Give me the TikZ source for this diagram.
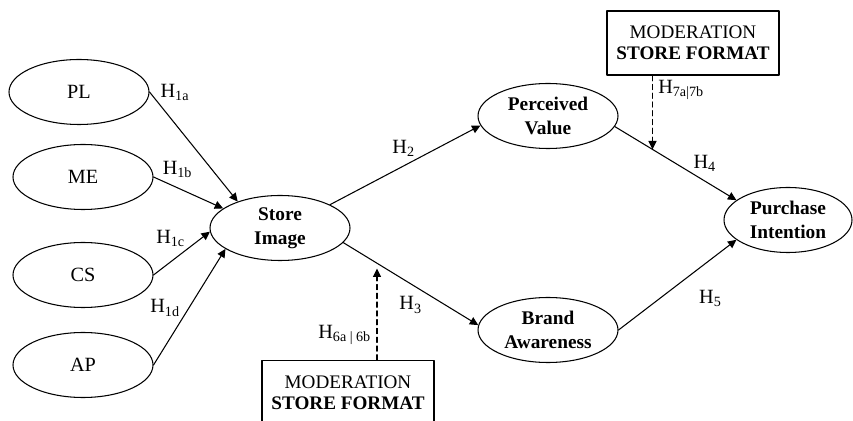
\documentclass[tikz,border=0pt]{standalone}
\usepackage{fontspec}
\setmainfont{Liberation Serif}
\usetikzlibrary{shapes.geometric}
\usetikzlibrary{arrows.meta}

\begin{document}
\begin{tikzpicture}[line cap = round, line join = round, >={Triangle[length=4.8pt,width=4.6pt]}, font=\fontsize{11.5}{13.5}\selectfont]
\tikzstyle{construct}=[ellipse, draw=black, line width=0.6pt, minimum width=2.8cm, minimum height=1.3cm, inner sep=0pt]
\tikzstyle{latent}=[construct, font=\fontsize{11}{13.6}\selectfont\bfseries, align=center]
\tikzstyle{moderator}=[rectangle, draw=black, line width=0.6pt, minimum width=3.44cm, minimum height=1.28cm, align=center, font=\fontsize{10.9}{12}\selectfont]
\tikzstyle{hpath}=[line width=0.6pt, ->]
\tikzstyle{modpath}=[line width=0.6pt, ->, dash pattern=on 3pt off 2pt]
\tikzstyle{hyp}=[inner sep=1pt]
\useasboundingbox (0,0) rectangle (17.06,8.4);

\node[construct] (PL) at (1.58,6.56) {PL};
\node[construct] (ME) at (1.66,4.86) {ME};
\node[construct] (CS) at (1.66,2.90) {CS};
\node[construct] (AP) at (1.66,1.10) {AP};
\node[latent] (SI) at (5.60,3.84) {Store\\Image};
\node[latent] (PV) at (10.96,6.08) {Perceived\\Value};
\node[latent] (BA) at (10.96,1.80) {Brand\\Awareness};
\node[latent, minimum width=2.56cm] (PI) at (15.76,4.00) {Purchase\\Intention};
\node[moderator] (mod1) at (13.86,7.54) {MODERATION\\\textbf{STORE FORMAT}};
\node[moderator, anchor=north] (mod2) at (6.96,1.20) {MODERATION\\\textbf{STORE FORMAT}};

% antecedents of store image
\draw[hpath] (PL.east) -- (SI.148) node[hyp, pos=0.1, anchor=south west]{H\textsubscript{1a}};
\draw[hpath] (ME.east) -- (SI.161) node[hyp, pos=0.1, anchor=south west]{H\textsubscript{1b}};
\draw[hpath] (CS.east) -- (SI.183) node[hyp, pos=0.6, anchor=south east]{H\textsubscript{1c}};
\draw[hpath] (AP.east) -- (SI.201) node[hyp, pos=0.4, anchor=south east]{H\textsubscript{1d}};

% structural paths
\draw[hpath] (SI.25) -- (PV.188) node[hyp, pos=0.49, above=4pt]{H\textsubscript{2}};
\draw[hpath] (SI.347) -- (BA.176) coordinate[pos=0.25] (m3) node[hyp, pos=0.5, below=6pt]{H\textsubscript{3}};
\draw[hpath] (PV.351) -- (PI.159) coordinate[pos=0.31] (m4) node[hyp, pos=0.74, above=4pt]{H\textsubscript{4}};
\draw[hpath] (BA.east) -- (PI.201) node[hyp, pos=0.78, below=16pt]{H\textsubscript{5}};

% moderation
\draw[modpath] (mod1.south -| m4) -- (m4) node[hyp, pos=0.2, right=2pt]{H\textsubscript{7a|7b}};
\draw[modpath, shorten >=3pt] (mod2.north -| m3) -- (m3) node[hyp, pos=0.26, left=2pt]{H\textsubscript{6a | 6b}};
\end{tikzpicture}
\end{document}
